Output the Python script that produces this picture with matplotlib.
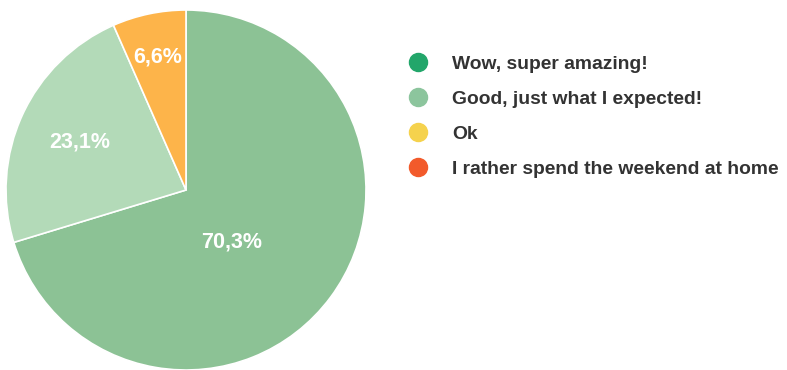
import matplotlib.pyplot as plt
from matplotlib.lines import Line2D

plt.rcParams['font.family'] = ['Liberation Sans', 'DejaVu Sans']

# answers shown in the legend
answers = ['Wow, super amazing!', 'Good, just what I expected!', 'Ok',
           'I rather spend the weekend at home']
legend_colors = ['#22a66a', '#8cc59d', '#f5d24d', '#f25a2b']

# slices drawn in the pie (clockwise from 12 o'clock)
slice_values = [70.3, 23.1, 6.6]
slice_labels = ['70,3%', '23,1%', '6,6%']
slice_colors = ['#8cc295', '#b3dab8', '#fdb44a']

fig = plt.figure(figsize=(7.87, 3.70), dpi=100)
ax = fig.add_axes([6 / 787, 0.0, 360 / 787, 360 / 370])

wedges, _ = ax.pie(slice_values, colors=slice_colors, startangle=90,
                   counterclock=False, radius=1,
                   wedgeprops=dict(edgecolor='white', linewidth=1.2))
ax.set_xlim(-1, 1)
ax.set_ylim(-1, 1)

# label positions (in units of the radius)
label_pos = [(0.256, -0.289), (-0.589, 0.267), (-0.156, 0.739)]
for lab, (x, y) in zip(slice_labels, label_pos):
    ax.text(x, y, lab, ha='center', va='center', color='white',
            fontsize=15.5, fontweight='bold')

handles = [Line2D([], [], marker='o', linestyle='', markersize=13,
                  markerfacecolor=c, markeredgecolor=c) for c in legend_colors]
leg = fig.legend(handles, answers, loc='upper left',
                 bbox_to_anchor=(399 / 787, 1 - 48 / 370), frameon=False,
                 fontsize=13.9, handletextpad=1.15, labelspacing=0.9,
                 borderaxespad=0, handlelength=1.2)
for t in leg.get_texts():
    t.set_fontweight('bold')
    t.set_color('#333333')

fig.savefig('out.png', dpi=100)
